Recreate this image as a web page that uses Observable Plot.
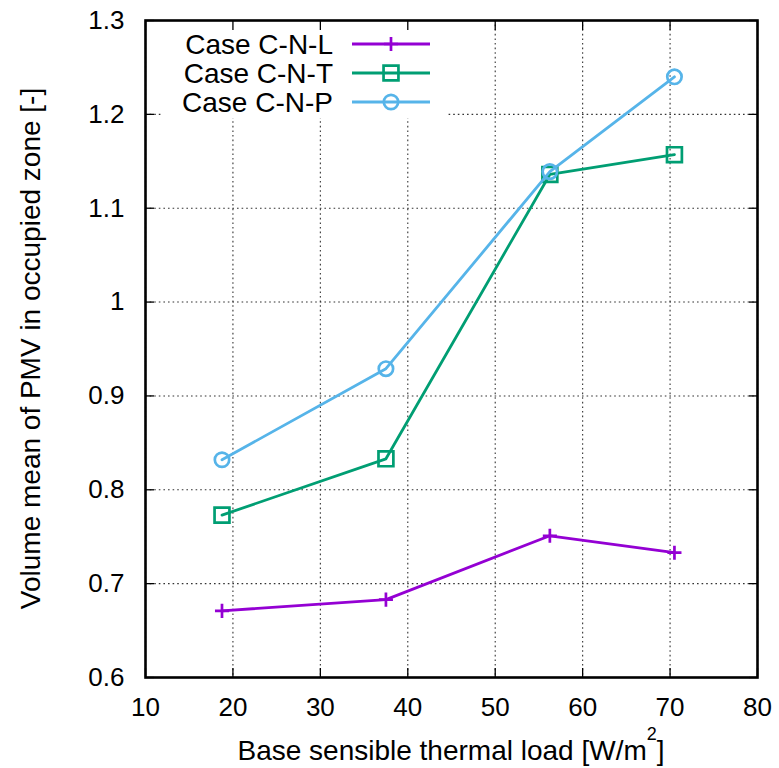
<!DOCTYPE html>
<html>
<head>
<meta charset="utf-8">
<script src="https://cdn.jsdelivr.net/npm/d3@7"></script>
<script src="https://cdn.jsdelivr.net/npm/@observablehq/plot@0.6"></script>
<style>
  html, body { margin: 0; padding: 0; background: #fff; }
  #chart { width: 779px; height: 768px; }
  svg { font-family: "Liberation Sans", Arial, Helvetica, sans-serif; }
</style>
</head>
<body>
<div id="chart"></div>
<script>
// ---- data ----
const seriesNames = ["Case C-N-L", "Case C-N-T", "Case C-N-P"];
const seriesColors = ["#9400D3", "#009E73", "#56B4E9"];
const seriesSymbols = ["plus", "square", "circle"];
const loadCNL = [18.75, 37.5, 56.25, 70.5];
const pmvCNL = [0.671, 0.683, 0.751, 0.733];
const loadCNT = [18.75, 37.5, 56.25, 70.5];
const pmvCNT = [0.773, 0.833, 1.136, 1.157];
const loadCNP = [18.75, 37.5, 56.25, 70.5];
const pmvCNP = [0.832, 0.929, 1.139, 1.240];
const xTicks = [10, 20, 30, 40, 50, 60, 70, 80];
const yTicks = [0.6, 0.7, 0.8, 0.9, 1.0, 1.1, 1.2, 1.3];
const xLabel = "Base sensible thermal load [W/m";
const xLabelSup = "2";
const xLabelEnd = "]";
const yLabel = "Volume mean of PMV in occupied zone [-]";

const loads = [loadCNL, loadCNT, loadCNP];
const pmvs = [pmvCNL, pmvCNT, pmvCNP];
const rows = [];
seriesNames.forEach((name, i) => {
  loads[i].forEach((x, j) => rows.push({series: name, x, y: pmvs[i][j]}));
});

const W = 779, H = 768;
const mL = 145, mR = 22, mT = 20, mB = 91;
const fs = 26;      // tick labels
const fsBig = 28;   // titles and key
const symbolR = {"plus": 4.6, "square": 8.4, "circle": 7.2};

const marks = [
  Plot.gridX(xTicks, {stroke: "#333", strokeOpacity: 1, strokeWidth: 1.1, strokeDasharray: "1.6,3"}),
  Plot.gridY(yTicks, {stroke: "#333", strokeOpacity: 1, strokeWidth: 1.1, strokeDasharray: "1.6,3"}),
  // inward ticks on all four sides
  Plot.axisX(xTicks, {anchor: "bottom", tickSize: 9, dy: -9, tickFormat: () => "", label: null, strokeWidth: 1.3}),
  Plot.axisX(xTicks, {anchor: "top", tickSize: 9, dy: 9, tickFormat: () => "", label: null, strokeWidth: 1.3}),
  Plot.axisY(yTicks, {anchor: "left", tickSize: 9, dx: 9, tickFormat: () => "", label: null, strokeWidth: 1.3}),
  Plot.axisY(yTicks, {anchor: "right", tickSize: 9, dx: -9, tickFormat: () => "", label: null, strokeWidth: 1.3}),
  // tick labels
  Plot.axisX(xTicks, {anchor: "bottom", tickSize: 0, tickPadding: 20, fontSize: fs, label: null, tickFormat: d => String(d)}),
  Plot.axisY(yTicks, {anchor: "left", tickSize: 0, tickPadding: 21, fontSize: fs, label: null, tickFormat: d => String(+d.toFixed(1))}),
];
seriesNames.forEach((name, i) => {
  const data = rows.filter(r => r.series === name);
  marks.push(Plot.line(data, {x: "x", y: "y", stroke: seriesColors[i], strokeWidth: 2.8}));
  marks.push(Plot.dot(data, {x: "x", y: "y", stroke: seriesColors[i], strokeWidth: 2.7, fill: "none",
    symbol: seriesSymbols[i], r: symbolR[seriesSymbols[i]]}));
});
marks.push(Plot.frame({stroke: "#000", strokeWidth: 2.6}));

const plot = Plot.plot({
  width: W, height: H,
  marginLeft: mL, marginRight: mR, marginTop: mT, marginBottom: mB,
  style: {fontFamily: '"Liberation Sans", Arial, Helvetica, sans-serif', fontSize: fs + "px", color: "#000", background: "#fff"},
  x: {domain: [10, 80], axis: null},
  y: {domain: [0.6, 1.3], axis: null},
  symbol: {type: "identity"},
  marks
});
document.getElementById("chart").appendChild(plot);

const svg = d3.select(plot);
const ns = "http://www.w3.org/2000/svg";

// opaque key box, placed just after the grid lines
const gridNode = plot.querySelector('[aria-label="y-grid"]');
const box = document.createElementNS(ns, "rect");
box.setAttribute("x", 162); box.setAttribute("y", 21.5);
box.setAttribute("width", 285); box.setAttribute("height", 96.5);
box.setAttribute("fill", "#fff");
if (gridNode) gridNode.parentNode.insertBefore(box, gridNode.nextSibling);

// legend entries
const legend = svg.append("g").attr("class", "legend");
const rowY = [44, 73, 102];
seriesNames.forEach((name, i) => {
  const y = rowY[i];
  legend.append("text").attr("x", 333).attr("y", y).attr("dy", "0.36em")
    .attr("text-anchor", "end").style("font-size", fsBig + "px").attr("fill", "#000").text(name);
  legend.append("line").attr("x1", 352).attr("x2", 430).attr("y1", y).attr("y2", y)
    .attr("stroke", seriesColors[i]).attr("stroke-width", 2.8);
  const sym = seriesSymbols[i];
  const r = symbolR[sym];
  if (sym === "circle") {
    legend.append("circle").attr("cx", 391).attr("cy", y).attr("r", r)
      .attr("fill", "none").attr("stroke", seriesColors[i]).attr("stroke-width", 2.7);
  } else {
    const s = sym === "plus" ? d3.symbolPlus : d3.symbolSquare;
    legend.append("path").attr("transform", `translate(391,${y})`)
      .attr("d", d3.symbol(s, r * r * Math.PI)())
      .attr("fill", "none").attr("stroke", seriesColors[i]).attr("stroke-width", 2.7);
  }
});

// axis titles
const xt = svg.append("text").attr("x", (mL + W - mR) / 2).attr("y", 760)
  .attr("text-anchor", "middle").style("font-size", fsBig + "px").attr("fill", "#000");
xt.append("tspan").text(xLabel);
xt.append("tspan").style("font-size", "18px").attr("dy", -20).text(xLabelSup);
xt.append("tspan").attr("dy", 20).text(xLabelEnd);

svg.append("text").attr("transform", `translate(40,${(mT + H - mB) / 2}) rotate(-90)`)
  .attr("text-anchor", "middle").style("font-size", fsBig + "px").attr("fill", "#000").text(yLabel);
</script>
</body>
</html>
